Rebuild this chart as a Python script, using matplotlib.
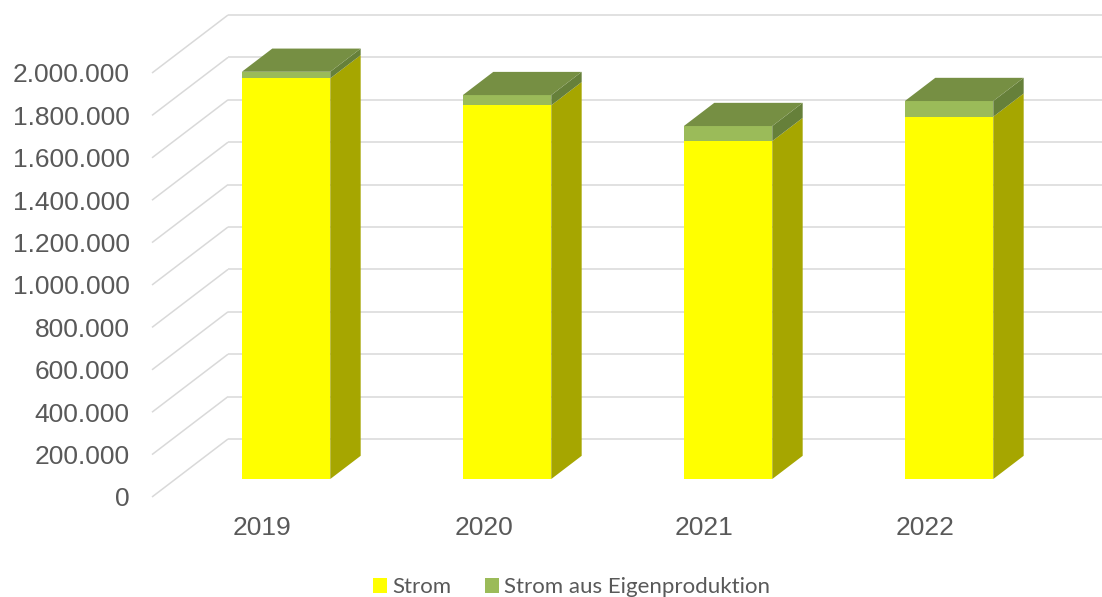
import matplotlib.pyplot as plt
from matplotlib.patches import Polygon, Patch

# yearly electricity use, split into purchased and self-produced
years = ['2019', '2020', '2021', '2022']
strom = [1890000, 1763000, 1594000, 1709000]
eigen = [31000, 48000, 71000, 74000]
yticks = list(range(0, 2000001, 200000))

# oblique "3D" look: full floor depth as an offset in data units
DX, DY = 0.344, 273600
D0, D1 = 0.31, 0.71      # bar sits between these depth fractions
W = 0.40                 # bar width in category units

YELLOW = dict(front='#FFFF00', side='#A6A600', top='#D4D400')
GREEN = dict(front='#9BBB59', side='#66803A', top='#768F43')
GRID = '#D9D9D9'
TEXT = '#595959'


def fmt(v):
    return f'{v:,}'.replace(',', '.')


def draw_segment(ax, i, bottom, height, col, with_top):
    x0 = i - W / 2
    x1 = i + W / 2
    ax.bar(i + D0 * DX, height, bottom=bottom + D0 * DY, width=W,
           color=col['front'], linewidth=0, zorder=3, clip_on=False)
    top = bottom + height
    side = [(x1 + D0 * DX, bottom + D0 * DY), (x1 + D1 * DX, bottom + D1 * DY),
            (x1 + D1 * DX, top + D1 * DY), (x1 + D0 * DX, top + D0 * DY)]
    ax.add_patch(Polygon(side, closed=True, facecolor=col['side'],
                         linewidth=0, zorder=3, clip_on=False))
    if with_top:
        lid = [(x0 + D0 * DX, top + D0 * DY), (x1 + D0 * DX, top + D0 * DY),
               (x1 + D1 * DX, top + D1 * DY), (x0 + D1 * DX, top + D1 * DY)]
        ax.add_patch(Polygon(lid, closed=True, facecolor=col['top'],
                             linewidth=0, zorder=3, clip_on=False))


fig = plt.figure(figsize=(11.02, 5.97), dpi=100)
ax = fig.add_axes([152 / 1102, 100 / 597, 884 / 1102, 424 / 597])
ax.set_xlim(-0.5, len(years) - 0.5)
ax.set_ylim(0, 2000000)
for s in ax.spines.values():
    s.set_visible(False)

# side-wall diagonals and back-wall gridlines
xl, xr = -0.5, len(years) - 0.5
for v in yticks:
    ax.plot([xl, xl + DX], [v, v + DY], color=GRID, lw=1.1,
            zorder=1, clip_on=False, solid_capstyle='butt')
    ax.plot([xl + DX, xr + DX], [v + DY, v + DY], color=GRID, lw=1.1,
            zorder=1, clip_on=False, solid_capstyle='butt')

for i in range(len(years)):
    draw_segment(ax, i, 0, strom[i], YELLOW, False)
    draw_segment(ax, i, strom[i], eigen[i], GREEN, True)

ax.set_yticks(yticks)
ax.set_yticklabels([fmt(v) for v in yticks])
ax.set_xticks(range(len(years)))
ax.set_xticklabels(years)
ax.tick_params(axis='y', length=0, pad=16, labelsize=19, labelcolor=TEXT)
ax.tick_params(axis='x', length=0, pad=14, labelsize=19, labelcolor=TEXT)
for lab in ax.get_xticklabels() + ax.get_yticklabels():
    lab.set_fontfamily('Liberation Sans')

handles = [Patch(facecolor=YELLOW['front'], label='Strom'),
           Patch(facecolor=GREEN['front'], label='Strom aus Eigenproduktion')]
fig.legend(handles=handles, loc='center', bbox_to_anchor=(0.5186, 0.016),
           ncol=2, frameon=False, prop={'family': 'Lato', 'size': 16},
           labelcolor=TEXT, handlelength=0.63, handleheight=0.63,
           handletextpad=0.25, columnspacing=1.5, borderpad=0)

fig.savefig('out.png', dpi=100)
